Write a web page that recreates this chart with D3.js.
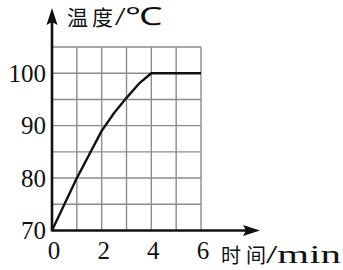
<!DOCTYPE html>
<html><head><meta charset="utf-8">
<script src="https://cdn.jsdelivr.net/npm/d3@7"></script>
<style>html,body{margin:0;padding:0;background:#fff;}svg{display:block;}</style>
</head><body>
<script>
// data
const times = [0, 1, 1.5, 2, 2.5, 3, 3.5, 4, 5, 6];
const temps = [70, 80, 84.5, 89, 92.4, 95.3, 98, 100, 100, 100];
const xTicks = [0, 2, 4, 6];
const yTicks = [70, 80, 90, 100];
const xGrid = [1, 2, 3, 4, 5, 6];
const yGrid = [75, 80, 85, 90, 95, 100, 105];
const yTitle = ["温", "度", "/℃"];
const xTitle = ["时", "间", "/min"];

const W = 343, H = 270;
const svg = d3.select("body").append("svg").attr("width", W).attr("height", H);
const x = d3.scaleLinear().domain([0, 6]).range([52, 201]);
const y = d3.scaleLinear().domain([70, 105]).range([230.5, 47]);

const serif = "'Liberation Serif','Times New Roman',serif";
const cjk = "'Noto Sans CJK SC','Noto Sans CJK JP',sans-serif";

// grid
const g = svg.append("g").attr("stroke", "#8c8c8c").attr("stroke-width", 1.4);
g.selectAll("line.v").data(xGrid).join("line")
  .attr("x1", d => x(d)).attr("x2", d => x(d)).attr("y1", y(70)).attr("y2", y(105));
g.selectAll("line.h").data(yGrid).join("line")
  .attr("x1", x(0)).attr("x2", x(6)).attr("y1", d => y(d)).attr("y2", d => y(d));

// curve
const line = d3.line().x((d, i) => x(times[i])).y(d => y(d)).curve(d3.curveLinear);
svg.append("path").attr("d", line(temps)).attr("fill", "none")
  .attr("stroke", "#111").attr("stroke-width", 2.4).attr("stroke-linejoin", "round");

// axes lines with arrows
svg.append("line").attr("x1", x(0)).attr("x2", 252).attr("y1", y(70)).attr("y2", y(70))
  .attr("stroke", "#111").attr("stroke-width", 2.6);
svg.append("path").attr("d", `M260,${y(70)} L243,${y(70) - 5.5} L246,${y(70)} L243,${y(70) + 5.5} Z`).attr("fill", "#111");
svg.append("line").attr("x1", x(0)).attr("x2", x(0)).attr("y1", y(70) + 1).attr("y2", 16)
  .attr("stroke", "#111").attr("stroke-width", 2.6);
svg.append("path").attr("d", `M${x(0)},8 L${x(0) - 5.5},25 L${x(0)},22 L${x(0) + 5.5},25 Z`).attr("fill", "#111");

// tick labels via d3 axes
const ax = svg.append("g").attr("transform", `translate(0,${y(70)})`)
  .call(d3.axisBottom(x).tickValues(xTicks).tickSize(0).tickPadding(11).tickFormat(d3.format("d")));
ax.select(".domain").remove();
ax.selectAll("text").attr("font-family", serif).attr("font-size", 25).attr("fill", "#111")
  .attr("dx", "0.06em");
const ay = svg.append("g").attr("transform", `translate(${x(0)},0)`)
  .call(d3.axisLeft(y).tickValues(yTicks).tickSize(0).tickPadding(6).tickFormat(d3.format("d")));
ay.select(".domain").remove();
ay.selectAll("text").attr("font-family", serif).attr("font-size", 25).attr("fill", "#111");

// y title
const yt = svg.append("text").attr("y", 25).attr("fill", "#111");
yt.append("tspan").attr("x", 67).attr("font-family", cjk).attr("font-size", 21).text(yTitle[0]);
yt.append("tspan").attr("x", 92).attr("font-family", cjk).attr("font-size", 21).text(yTitle[1]);
yt.append("tspan").attr("x", 115).attr("font-family", serif).attr("font-size", 25)
  .attr("textLength", 48).attr("lengthAdjust", "spacingAndGlyphs").text(yTitle[2]);

// x title
const xt = svg.append("text").attr("y", 263).attr("fill", "#111");
xt.append("tspan").attr("x", 221).attr("font-family", cjk).attr("font-size", 20).text(xTitle[0]);
xt.append("tspan").attr("x", 246).attr("font-family", cjk).attr("font-size", 20).text(xTitle[1]);
xt.append("tspan").attr("x", 266).attr("font-family", serif).attr("font-size", 26)
  .attr("textLength", 75).attr("lengthAdjust", "spacingAndGlyphs").text(xTitle[2]);
</script>
</body></html>
